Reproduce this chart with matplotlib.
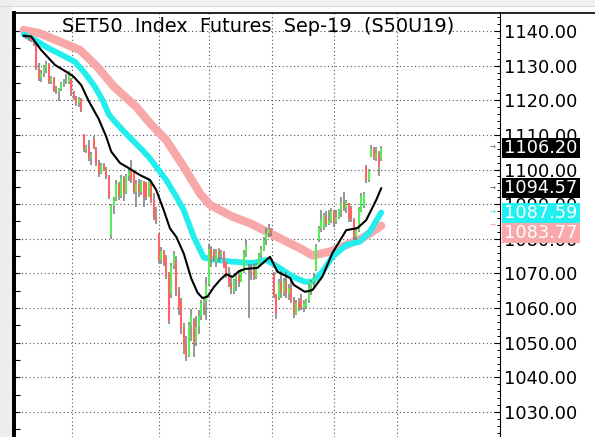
import numpy as np
import matplotlib
matplotlib.use("Agg")
import matplotlib.pyplot as plt
from matplotlib.patches import Rectangle
from matplotlib.lines import Line2D
import matplotlib.transforms as mtransforms

# bar data (one bar per session slot)
opens = [
    1138.6, 1138.9, 1138.0, 1138.3, 1137.2, 1136.2, 1129.0, 1126.5, 1128.0, 1129.6,
    1130.4, 1125.4, 1126.4, 1123.0, 1122.4, 1123.2, 1124.8, 1125.4, 1125.2, 1126.0,
    1121.8, 1120.6, 1119.2, 1120.4, 1110.2, 1105.8, 1106.4, 1103.4, 1108.8, 1106.2,
    1102.0, 1099.0, 1101.2, 1100.2, 1098.0, 1081.0, 1089.4, 1091.6, 1095.8, 1092.4,
    1097.6, 1093.2, 1098.0, 1099.6, 1099.6, 1093.6, 1095.8, 1093.4, 1096.4, 1096.2,
    1092.2, 1096.6, 1091.0, 1086.2, 1081.5, 1074.0, 1076.4, 1074.6, 1070.0, 1064.0,
    1072.2, 1074.0, 1065.0, 1062.0, 1054.0, 1049.0, 1046.2, 1055.2, 1056.4, 1050.0,
    1054.4, 1057.8, 1061.4, 1062.0, 1067.0, 1077.0, 1076.6, 1073.4, 1076.2, 1075.2,
    1076.2, 1073.2, 1069.2, 1067.2, 1064.8, 1068.0, 1069.4, 1067.6, 1070.4, 1076.0,
    1072.0, 1070.8, 1071.6, 1069.0, 1072.4, 1075.2, 1077.2, 1079.8, 1081.6, 1082.8,
    1070.0, 1063.6, 1063.0, 1067.6, 1064.6, 1067.8, 1064.0, 1065.8, 1062.4, 1058.4,
    1061.6, 1062.6, 1060.0, 1060.6, 1062.2, 1066.0, 1067.4, 1071.0, 1079.6, 1083.0,
    1083.4, 1087.0, 1084.4, 1085.2, 1088.0, 1084.8, 1086.2, 1088.2, 1090.4, 1089.0,
    1090.2, 1089.0, 1085.4, 1080.6, 1082.6, 1088.0, 1089.6, 1100.6, 1097.0, 1104.0,
    1106.0, 1103.4, 1104.8, 1103.0,
]
highs = [
    1139.2, 1139.1, 1138.6, 1138.8, 1137.8, 1136.4, 1130.8, 1128.8, 1130.2, 1131.2,
    1130.7, 1127.0, 1126.8, 1124.2, 1123.6, 1125.2, 1126.0, 1127.6, 1128.4, 1126.5,
    1122.6, 1121.2, 1121.0, 1120.8, 1110.4, 1107.0, 1108.4, 1105.0, 1109.6, 1106.4,
    1102.8, 1101.8, 1102.0, 1100.6, 1098.4, 1090.0, 1092.2, 1097.0, 1096.4, 1098.4,
    1098.0, 1098.6, 1100.4, 1102.8, 1099.8, 1097.0, 1097.4, 1097.0, 1096.8, 1096.4,
    1097.0, 1096.8, 1093.2, 1089.2, 1081.8, 1077.6, 1076.8, 1075.2, 1070.4, 1073.0,
    1076.6, 1075.0, 1066.0, 1063.0, 1055.8, 1052.0, 1056.0, 1059.8, 1057.0, 1057.8,
    1059.4, 1062.4, 1063.2, 1069.0, 1078.6, 1078.0, 1077.2, 1077.0, 1077.4, 1076.8,
    1076.6, 1073.4, 1071.8, 1069.4, 1068.4, 1070.0, 1071.0, 1071.4, 1076.8, 1079.6,
    1072.8, 1072.6, 1072.8, 1073.0, 1076.0, 1077.8, 1080.6, 1083.0, 1084.4, 1083.2,
    1070.4, 1064.0, 1068.4, 1070.6, 1068.6, 1070.4, 1067.0, 1068.4, 1063.2, 1062.2,
    1063.0, 1064.0, 1062.2, 1062.6, 1067.0, 1068.0, 1070.0, 1078.6, 1083.6, 1088.2,
    1087.4, 1088.0, 1088.4, 1088.8, 1088.4, 1088.4, 1088.6, 1092.0, 1093.6, 1091.2,
    1090.4, 1089.4, 1086.0, 1083.4, 1089.2, 1093.2, 1093.4, 1101.2, 1100.2, 1107.2,
    1106.6, 1106.4, 1105.4, 1106.8,
]
lows = [
    1138.2, 1137.6, 1137.2, 1136.8, 1135.8, 1128.6, 1125.6, 1125.2, 1126.8, 1127.8,
    1124.8, 1124.6, 1122.4, 1121.8, 1119.8, 1122.6, 1123.8, 1124.8, 1124.6, 1121.2,
    1120.0, 1118.4, 1118.2, 1116.6, 1105.2, 1104.8, 1102.6, 1101.2, 1105.8, 1101.0,
    1097.8, 1098.6, 1099.6, 1097.4, 1091.4, 1080.0, 1087.2, 1090.8, 1091.2, 1091.8,
    1091.0, 1092.8, 1096.6, 1096.2, 1093.0, 1089.2, 1092.2, 1092.6, 1089.2, 1091.2,
    1092.0, 1090.4, 1085.4, 1084.4, 1073.0, 1072.8, 1072.2, 1068.4, 1055.4, 1063.0,
    1071.2, 1063.6, 1058.0, 1052.6, 1046.8, 1044.8, 1045.8, 1050.6, 1045.8, 1049.0,
    1052.6, 1056.6, 1058.0, 1056.6, 1066.4, 1072.0, 1073.6, 1071.8, 1073.4, 1074.2,
    1071.6, 1068.6, 1066.0, 1064.2, 1064.2, 1065.0, 1066.0, 1067.4, 1070.0, 1074.8,
    1057.0, 1068.2, 1068.0, 1068.4, 1071.8, 1074.6, 1076.4, 1078.2, 1080.6, 1080.8,
    1063.0, 1056.8, 1062.4, 1063.0, 1063.4, 1063.0, 1062.2, 1061.6, 1057.0, 1058.0,
    1059.2, 1059.4, 1059.0, 1059.8, 1061.6, 1063.8, 1066.2, 1070.8, 1079.0, 1082.0,
    1082.6, 1083.4, 1084.0, 1084.6, 1083.4, 1084.2, 1085.8, 1086.2, 1088.0, 1087.4,
    1084.8, 1084.8, 1079.6, 1079.6, 1082.0, 1087.6, 1088.8, 1096.0, 1096.4, 1103.6,
    1102.8, 1102.6, 1098.0, 1102.6,
]
closes = [
    1138.9, 1138.0, 1138.3, 1137.2, 1136.4, 1129.2, 1126.5, 1128.0, 1129.6, 1130.4,
    1125.4, 1126.4, 1123.0, 1122.4, 1123.2, 1124.8, 1125.4, 1125.2, 1127.8, 1121.8,
    1120.6, 1119.2, 1120.4, 1117.0, 1105.8, 1106.4, 1103.4, 1104.2, 1106.2, 1102.0,
    1099.0, 1101.2, 1100.2, 1098.0, 1092.0, 1089.4, 1091.6, 1095.8, 1092.4, 1097.6,
    1093.2, 1098.0, 1099.6, 1097.0, 1093.6, 1095.8, 1093.4, 1096.4, 1091.8, 1092.2,
    1096.6, 1091.0, 1086.2, 1085.0, 1074.0, 1076.4, 1073.0, 1069.2, 1056.4, 1072.2,
    1075.6, 1065.0, 1060.0, 1054.0, 1049.0, 1046.2, 1055.2, 1057.6, 1050.0, 1054.4,
    1057.8, 1061.4, 1062.0, 1066.6, 1077.0, 1074.0, 1074.2, 1076.2, 1075.2, 1076.2,
    1072.0, 1069.2, 1067.2, 1065.4, 1068.0, 1069.4, 1067.6, 1070.4, 1076.0, 1078.0,
    1070.8, 1071.6, 1069.0, 1072.4, 1075.2, 1077.2, 1079.8, 1081.6, 1082.8, 1081.6,
    1063.6, 1058.2, 1067.6, 1064.6, 1067.8, 1064.0, 1065.8, 1062.4, 1058.4, 1061.6,
    1060.2, 1060.0, 1061.2, 1062.2, 1066.0, 1067.4, 1069.0, 1078.0, 1083.0, 1085.4,
    1087.0, 1084.4, 1085.2, 1088.0, 1084.8, 1086.2, 1088.2, 1090.4, 1089.2, 1090.8,
    1086.0, 1085.4, 1080.6, 1082.6, 1088.6, 1092.4, 1093.0, 1097.0, 1099.6, 1106.0,
    1103.4, 1104.8, 1101.0, 1106.2,
]

# moving averages, read at a set of bar positions
fast_x = [0, 3, 7, 12.5, 18, 20, 23, 26, 30, 33, 35, 38.5, 42.5, 46.5, 50.5, 53, 56,
          58.5, 61, 64, 67, 69.5, 71.5, 73.5, 76, 78.5, 81, 83.5, 86, 88.5, 93.5, 98.5,
          101.5, 106.5, 108, 112.5, 115.5, 119.5, 123.5, 129, 133.5, 137, 141, 143]
fast_y = [1138.6, 1138.4, 1134.5, 1130.2, 1127.8, 1126.8, 1124.4, 1119.8, 1114.6, 1109.5,
          1105.2, 1101.9, 1100.2, 1098.4, 1097.0, 1094.1, 1088.3, 1083.0, 1080.6, 1075.8,
          1068.6, 1064.5, 1062.9, 1063.3, 1066.0, 1068.1, 1069.8, 1069.0, 1070.6, 1071.3,
          1071.6, 1074.8, 1070.5, 1068.7, 1066.7, 1064.7, 1065.2, 1069.1, 1075.9, 1082.5,
          1083.1, 1085.4, 1091.2, 1094.57]

mid_x = [0, 4.5, 10, 15.5, 20.5, 24.5, 28.5, 31.5, 34, 36, 41, 47.5, 50.5, 57, 61, 64,
         68, 72, 77, 83.5, 91.5, 97, 101.5, 107.5, 112.5, 115.5, 119.5, 123.5, 129,
         134.5, 138.5, 143]
mid_y = [1139.0, 1137.4, 1135.0, 1133.0, 1131.1, 1127.8, 1123.9, 1120.1, 1116.0, 1114.2,
         1110.3, 1105.6, 1103.2, 1097.0, 1092.2, 1088.3, 1080.6, 1074.6, 1073.9, 1073.4,
         1073.0, 1073.9, 1072.0, 1069.1, 1067.6, 1067.6, 1070.5, 1074.8, 1078.2, 1079.2,
         1082.1, 1087.59]

slow_x = [0, 6.5, 14.5, 22.5, 29, 36, 45, 50.5, 57, 64, 70.5, 74.5, 83.5, 90.5, 98.5,
          106.5, 110.5, 115.5, 122.5, 129, 135.5, 143]
slow_y = [1140.3, 1139.3, 1136.9, 1134.5, 1130.0, 1124.0, 1118.1, 1113.4, 1108.5, 1100.8,
          1093.1, 1089.8, 1086.4, 1084.5, 1081.6, 1078.7, 1077.3, 1075.2, 1076.3, 1078.2,
          1080.2, 1083.77]

grid_x = [19.3, 54.2, 74.1, 99.2, 124.2, 149.2]
title = "SET50  Index  Futures  Sep-19  (S50U19)"

W, H = 595, 437
fig = plt.figure(figsize=(W / 100, H / 100), dpi=100)
fig.patch.set_facecolor("white")

# window frame bits
fig.add_artist(Rectangle((0, 1 - 5 / H), 1, 5 / H, transform=fig.transFigure,
                         color="#f0f0f0", zorder=0))
fig.add_artist(Line2D([0, 1], [1 - 5.5 / H, 1 - 5.5 / H], transform=fig.transFigure,
                      color="#d8d8d8", lw=0.8))
fig.add_artist(Rectangle((0, 0), 11 / W, 1, transform=fig.transFigure,
                         color="#eeeeee", zorder=0))
fig.add_artist(Line2D([500 / W, 1], [1 - 13 / H, 1 - 13 / H], transform=fig.transFigure,
                      color="black", lw=1.2))

left_px, right_px, top_px = 14, 500, 13
ax = fig.add_axes([left_px / W, 0, (right_px - left_px) / W, (H - top_px) / H])

x = np.arange(len(closes))
o = np.array(opens)
c = np.array(closes)
up = c >= o

ax.plot(slow_x, slow_y, color="#f8a8a8", lw=6, solid_capstyle="round", zorder=2)
ax.plot(mid_x, mid_y, color="#22eeee", lw=4.2, solid_capstyle="round", zorder=3)
ax.vlines(x, lows, highs, color="#7a7a7a", lw=1.1, zorder=4)
ax.vlines(x[up], o[up], c[up], color="#55ee55", lw=1.5, zorder=4.5)
ax.vlines(x[~up], c[~up], o[~up], color="#ff6464", lw=1.5, zorder=4.5)
ax.plot(fast_x, fast_y, color="black", lw=1.5, zorder=5)

ax.set_xlim((left_px - 23.7) / 2.5, (right_px - 23.7) / 2.5)
ax.set_ylim(1140 - (H - 31) / 3.4636, 1140 + (31 - top_px) / 3.4636)

ax.set_xticks(grid_x)
ax.tick_params(axis="x", bottom=False, labelbottom=False)
ax.set_yticks(np.arange(1030, 1141, 10))
ax.set_yticks(np.arange(1024, 1145, 2), minor=True)
ax.yaxis.tick_right()
ax.set_yticklabels([f"{v:.2f}" for v in np.arange(1030, 1141, 10)])
ax.tick_params(axis="y", which="major", direction="in", length=4, width=0.8,
               pad=3, labelsize=12.8, colors="black")
ax.tick_params(axis="y", which="minor", direction="in", length=2.5, width=0.7)
ax.grid(True, color="#505050", lw=0.8, linestyle=(0, (1, 2.4)))

left_ticks = ax.secondary_yaxis("left")
left_ticks.set_yticks(np.arange(1025, 1145, 5))
left_ticks.tick_params(direction="in", length=4, width=0.8, labelleft=False)
left_ticks.spines["left"].set_linewidth(2.7)

ax.spines["bottom"].set_visible(False)
ax.spines["left"].set_linewidth(2.7)
ax.spines["top"].set_linewidth(1.2)
ax.spines["right"].set_linewidth(0.8)

# last-value boxes on the price axis
ytr = ax.get_yaxis_transform()
box_h = 20 / 3.4636
x0 = (501.7 - left_px) / (right_px - left_px)
x1 = (580 - left_px) / (right_px - left_px)
tx = (504 - left_px) / (right_px - left_px)
ax_x = (493 - left_px) / (right_px - left_px)
last_vals = [1106.20, 1094.57, 1087.59, 1083.77]
box_pos = [1106.20, 1094.57, 1087.59, 1081.60]
box_cols = ["black", "black", "#22f0f0", "#f8a8a8"]
arrow_cols = ["#555555", "#555555", "#22dddd", "#f0a0a0"]
for v, p, col, acol in zip(last_vals, box_pos, box_cols, arrow_cols):
    ax.add_patch(Rectangle((x0, p - box_h / 2), x1 - x0, box_h, transform=ytr,
                           facecolor=col, edgecolor="none", clip_on=False, zorder=10))
    ax.text(tx, p, f"{v:.2f}", transform=ytr, color="white", fontsize=12.8,
            va="center", ha="left", zorder=11, clip_on=False)
    ax.text(ax_x, v, "\u2192", transform=ytr, color=acol, fontsize=5,
            va="center", ha="center", zorder=11, clip_on=False)

fig.text(258 / W, 1 - 31.5 / H, title, ha="center", va="baseline", fontsize=13.9,
         color="black")

fig.savefig("out.png", dpi=100)
